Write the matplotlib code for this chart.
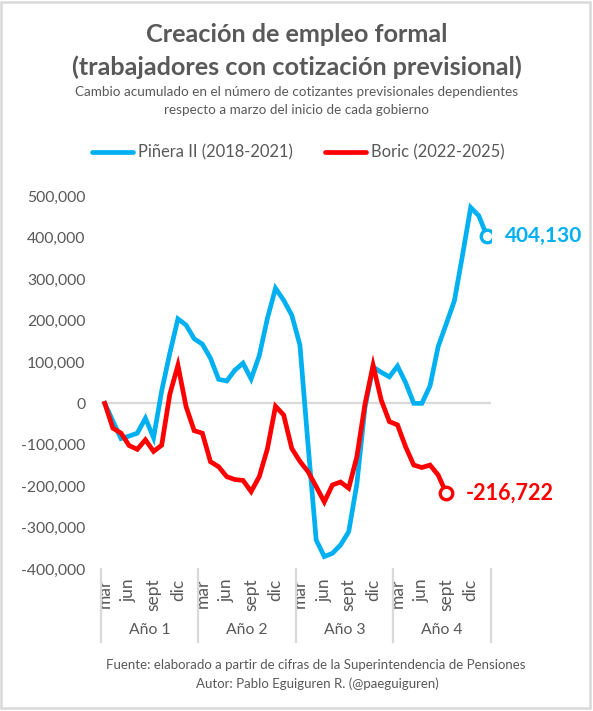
import numpy as np
import matplotlib.pyplot as plt
from matplotlib.patches import Rectangle
import matplotlib.transforms as mtransforms

plt.rcParams['font.family'] = ['Lato', 'DejaVu Sans']

# Cambio acumulado de cotizantes (mar año 1 ... feb año 5)
pinera = [0, -43000, -85000, -79000, -72000, -36000, -83000, 30000, 121000, 204000,
          189000, 156000, 143000, 109000, 58000, 54000, 80000, 97000, 59000, 115000,
          205000, 278000, 249000, 213000, 141000, -100000, -330000, -370000, -362000, -342000,
          -310000, -195000, -10000, 88000, 75000, 64000, 90000, 50000, 0, 0,
          42000, 137000, 192000, 248000, 358000, 473000, 453000, 404130]
boric = [0, -60000, -72000, -102000, -111000, -88000, -116000, -101000, 22000, 92000,
         -8000, -66000, -72000, -141000, -153000, -177000, -184000, -186000, -213000, -177000,
         -110000, -7000, -28000, -109000, -140000, -165000, -201000, -238000, -197000, -190000,
         -205000, -129000, -2000, 92000, 8000, -44000, -52000, -105000, -149000, -155000,
         -149000, -173000, -216722]
months = ['mar', 'abr', 'may', 'jun', 'jul', 'ago', 'sept', 'oct', 'nov', 'dic', 'ene', 'feb']
years = ['Año 1', 'Año 2', 'Año 3', 'Año 4']
series_names = ['Piñera II (2018-2021)', 'Boric (2022-2025)']

blue = '#00B0F0'
red = '#FF0000'
gray_txt = '#595959'
gray_line = '#d9d9d9'

W, H = 593, 711
fig = plt.figure(figsize=(W / 100, H / 100), dpi=100)

def fx(px):
    return px / W

def fy(py):
    return 1 - py / H

ax = fig.add_axes([fx(100.7), fy(569), (491 - 100.7) / W, (569 - 196.3) / H])

ax.axhline(0, color=gray_line, lw=1.6, zorder=1)
xb = np.arange(len(pinera))
xr = np.arange(len(boric))
ax.plot(xr, boric, color=red, lw=3.4, solid_joinstyle='miter', zorder=3)
ax.plot(xb, pinera, color=blue, lw=3.4, solid_joinstyle='miter', zorder=2)

# end markers and labels
ax.plot(xb[-1], pinera[-1], 'o', ms=9, mfc='white', mec=blue, mew=2.4, zorder=4)
ax.plot(xr[-1], boric[-1], 'o', ms=9, mfc='white', mec=red, mew=2.4, zorder=4)
ax.annotate(f'{pinera[-1]:,}', (xb[-1], pinera[-1]), xytext=(13, 0), textcoords='offset points',
            va='center', ha='left', color=blue, fontsize=15, fontweight='bold')
ax.annotate(f'{boric[-1]:,}', (xr[-1], boric[-1]), xytext=(14, 0), textcoords='offset points',
            va='center', ha='left', color=red, fontsize=15.5, fontweight='bold')

ax.set_xlim(-0.5, 47.5)
ax.set_ylim(-400000, 500000)
ax.set_yticks(np.arange(-400000, 500001, 100000))
ax.set_yticklabels([f'{v:,}' for v in np.arange(-400000, 500001, 100000)])
ax.tick_params(axis='y', length=0, pad=11, labelsize=11.3, labelcolor=gray_txt)

xt = [i for i in range(48) if i % 3 == 0]
ax.set_xticks(xt)
ax.set_xticklabels([months[i % 12] for i in xt], rotation=90)
ax.tick_params(axis='x', length=0, pad=7, labelsize=12.5, labelcolor=gray_txt)
for s in ax.spines.values():
    s.set_visible(False)

trans = mtransforms.blended_transform_factory(ax.transData, ax.transAxes)
for k in range(5):
    b = k * 12 - 0.5
    ax.plot([b, b], [0, -0.196], color=gray_line, lw=1.6, transform=trans, clip_on=False)
for k, y in enumerate(years):
    ax.text(k * 12 + 5.5, -0.164, y, transform=trans, ha='center', va='center',
            fontsize=11.3, color=gray_txt)

# titles
fig.text(fx(297), fy(35), 'Creación de empleo formal', ha='center', va='center',
         fontsize=18.2, fontweight='bold', color=gray_txt)
fig.text(fx(297), fy(67), '(trabajadores con cotización previsional)', ha='center', va='center',
         fontsize=18.2, fontweight='bold', color=gray_txt)
fig.text(fx(297), fy(92.5), 'Cambio acumulado en el número de cotizantes previsionales dependientes',
         ha='center', va='center', fontsize=9.7, color=gray_txt)
fig.text(fx(297), fy(110), 'respecto a marzo del inicio de cada gobierno',
         ha='center', va='center', fontsize=9.7, color=gray_txt)

# legend
for (x0, x1, tx), c, name in zip([(92, 133, 138), (325, 366, 371)], [blue, red], series_names):
    fig.lines.append(plt.Line2D([fx(x0), fx(x1)], [fy(152), fy(152)], color=c, lw=3.4,
                                solid_capstyle='round', transform=fig.transFigure))
    fig.text(fx(tx), fy(152), name, ha='left', va='center', fontsize=11.9, color=gray_txt)

# footer
fig.text(fx(316), fy(665), 'Fuente: elaborado a partir de cifras de la Superintendencia de Pensiones',
         ha='center', va='center', fontsize=9.5, color=gray_txt)
fig.text(fx(317), fy(684), 'Autor: Pablo Eguiguren R. (@paeguiguren)',
         ha='center', va='center', fontsize=9.5, color=gray_txt)

fig.patches.append(Rectangle((fx(1), fy(708)), fx(589), (708 - 2) / H, fill=False,
                             edgecolor=gray_line, lw=1.8, transform=fig.transFigure))

fig.savefig('out.png', dpi=100, facecolor='white')
